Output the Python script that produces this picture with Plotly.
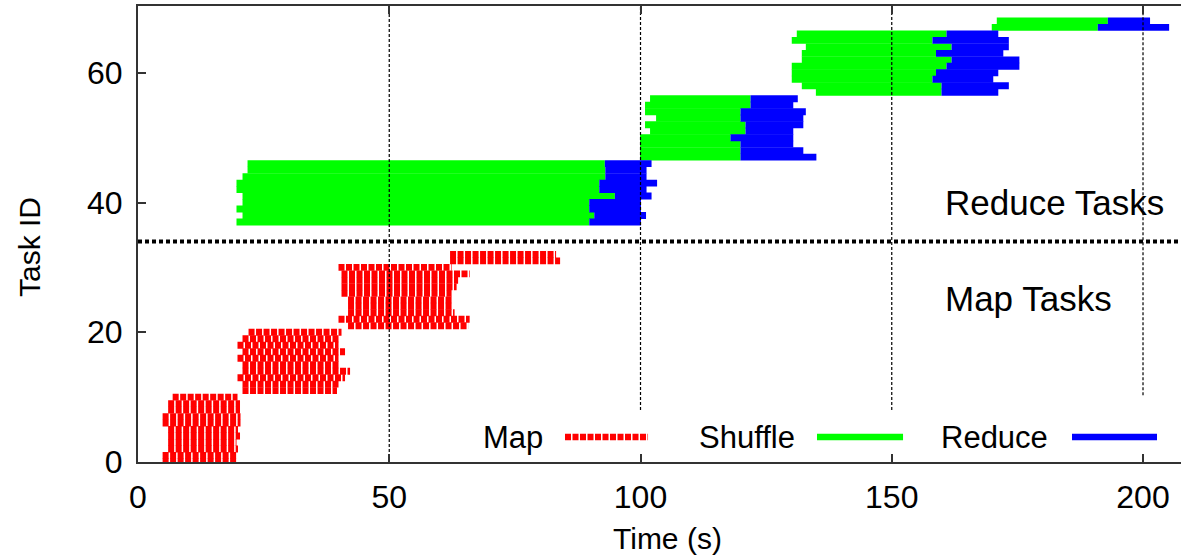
import plotly.graph_objects as go

# ---------------- data ----------------
map_ids = list(range(0, 33))
map_start = [4.9, 4.9, 6.0, 6.0, 6.0, 6.0, 4.9, 4.9, 6.0, 6.0, 6.9,
             20.8, 20.8, 19.8, 20.8, 20.8, 19.8, 20.8, 19.8, 20.8, 22.0,
             41.8, 39.9, 41.8, 41.8, 41.8, 40.5, 40.5, 40.5, 40.5, 39.9,
             62.1, 62.1]
map_end = [19.6, 19.6, 19.9, 19.6, 20.3, 19.9, 20.4, 20.4, 20.3, 20.3, 19.8,
           39.6, 39.9, 41.2, 42.2, 39.9, 39.9, 41.2, 39.9, 39.9, 40.5,
           65.7, 66.0, 63.0, 62.4, 62.4, 62.4, 63.4, 63.7, 66.0, 62.4,
           84.0, 83.2]

red_ids = list(range(37, 69))
shuffle_start = [19.6, 20.8, 19.6, 20.8, 20.8, 19.6, 19.6, 20.8, 21.8, 21.8,
                 99.9, 99.9, 99.9, 99.9, 101.9, 100.9, 103.1, 100.9, 100.9, 101.9,
                 134.9, 132.1, 130.1, 130.1, 130.1, 132.1, 132.1, 132.9, 130.1, 131.1,
                 169.9, 170.9]
shuffle_end = [89.8, 90.8, 89.8, 89.8, 94.9, 91.8, 91.8, 93.0, 93.0, 92.9,
               119.9, 119.9, 119.9, 117.9, 120.9, 120.9, 119.9, 119.9, 121.9, 121.9,
               159.9, 159.9, 158.1, 158.8, 160.9, 161.9, 158.8, 161.9, 158.1, 160.9,
               191.0, 193.0]
reduce_end = [100.1, 101.1, 100.1, 100.1, 102.2, 101.2, 103.3, 101.2, 101.2, 102.2,
              135.0, 132.4, 130.4, 130.4, 130.4, 132.4, 132.4, 132.9, 130.4, 131.3,
              171.2, 173.3, 170.2, 171.2, 175.4, 175.4, 172.2, 173.3, 173.3, 171.2,
              205.2, 201.4]

x_ticks = [0, 50, 100, 150, 200]
y_ticks = [0, 20, 40, 60]
separator_y = 34
grid_x = [50, 100, 150, 200]
grid_from = [0, 8.0, 8.0, 10.3]   # where the opaque key box hides the grid

X_MAX = 207.56
Y_MAX = 70.3

FONT = "Liberation Sans, Arial, Helvetica, sans-serif"
RED, GREEN, BLUE = "#ff0000", "#00ff00", "#0000ff"
LW = 6.9


def segs(ids, a, b):
    xs, ys = [], []
    for i, s, e in zip(ids, a, b):
        xs += [s, e, None]
        ys += [i, i, None]
    return xs, ys


fig = go.Figure()

mx, my = segs(map_ids, map_start, map_end)
fig.add_trace(go.Scatter(x=mx, y=my, mode="lines", name="Map",
                         line=dict(color=RED, width=LW, dash="6px,1.5px"),
                         hoverinfo="skip"))
sx, sy = segs(red_ids, shuffle_start, shuffle_end)
fig.add_trace(go.Scatter(x=sx, y=sy, mode="lines", name="Shuffle",
                         line=dict(color=GREEN, width=LW), hoverinfo="skip"))
rx, ry = segs(red_ids, shuffle_end, reduce_end)
fig.add_trace(go.Scatter(x=rx, y=ry, mode="lines", name="Reduce",
                         line=dict(color=BLUE, width=LW), hoverinfo="skip"))

# vertical dotted grid, drawn in front of the bars
gx, gy = [], []
for g, f in zip(grid_x, grid_from):
    gx += [g, g, None]
    gy += [f, Y_MAX, None]
fig.add_trace(go.Scatter(x=gx, y=gy, mode="lines",
                         line=dict(color="#000000", width=1.2, dash="3px,2px"),
                         hoverinfo="skip", showlegend=False))

# separator between map and reduce tasks
fig.add_trace(go.Scatter(x=[0, X_MAX], y=[separator_y, separator_y], mode="lines",
                         line=dict(color="#000000", width=4, dash="4px,3px"),
                         hoverinfo="skip", showlegend=False))

# labels inside the plot
fig.add_annotation(x=160.2, y=40, xref="x", yref="y", text="Reduce Tasks",
                   showarrow=False, xanchor="left", yanchor="middle",
                   font=dict(family=FONT, size=35, color="#000"))
fig.add_annotation(x=160.2, y=25.2, xref="x", yref="y", text="Map Tasks",
                   showarrow=False, xanchor="left", yanchor="middle",
                   font=dict(family=FONT, size=35, color="#000"))

# key (text then sample, gnuplot style)
key_y = 0.0548
key_items = [("Map", 0.3902, 0.4094, 0.4890, RED, "6px,1.5px"),
             ("Shuffle", 0.6318, 0.6510, 0.7335, GREEN, "solid"),
             ("Reduce", 0.8744, 0.8955, 0.9770, BLUE, "solid")]
for label, tx, x0, x1, col, dash in key_items:
    fig.add_annotation(x=tx, y=key_y, xref="paper", yref="paper", text=label,
                       showarrow=False, xanchor="right", yanchor="middle",
                       font=dict(family=FONT, size=31, color="#000"))
    fig.add_shape(type="line", xref="paper", yref="paper", x0=x0, x1=x1,
                  y0=key_y, y1=key_y, line=dict(color=col, width=6.4, dash=dash))

# axis titles
fig.add_annotation(x=0.5072, y=-0.1667, xref="paper", yref="paper", text="Time (s)",
                   showarrow=False, xanchor="center", yanchor="middle",
                   font=dict(family=FONT, size=30, color="#000"))
fig.add_annotation(x=-0.1035, y=0.4715, xref="paper", yref="paper", text="Task ID",
                   showarrow=False, xanchor="center", yanchor="middle", textangle=-90,
                   font=dict(family=FONT, size=30, color="#000"))

fig.update_layout(
    width=1181, height=556,
    margin=dict(l=138, r=0, t=6, b=94),
    plot_bgcolor="white", paper_bgcolor="white",
    showlegend=False,
    font=dict(family=FONT, color="#000"),
)
fig.update_xaxes(range=[0, X_MAX], tickvals=x_ticks, ticks="inside", ticklen=8,
                 tickwidth=2, tickcolor="#333", showline=True, linecolor="#333",
                 linewidth=2, mirror="ticks", showgrid=False, zeroline=False,
                 tickfont=dict(family=FONT, size=32, color="#000"),
                 ticklabelstandoff=6)
fig.update_yaxes(range=[0, Y_MAX], tickvals=y_ticks, ticks="inside", ticklen=8,
                 tickwidth=2, tickcolor="#333", showline=True, linecolor="#333",
                 linewidth=2, mirror=False, showgrid=False, zeroline=False,
                 tickfont=dict(family=FONT, size=32, color="#000"),
                 ticklabelstandoff=7)

fig.write_html("out.html",
               config={"displayModeBar": False},
               post_script="document.body.style.margin='0';"
                           "document.body.style.overflow='hidden';")
